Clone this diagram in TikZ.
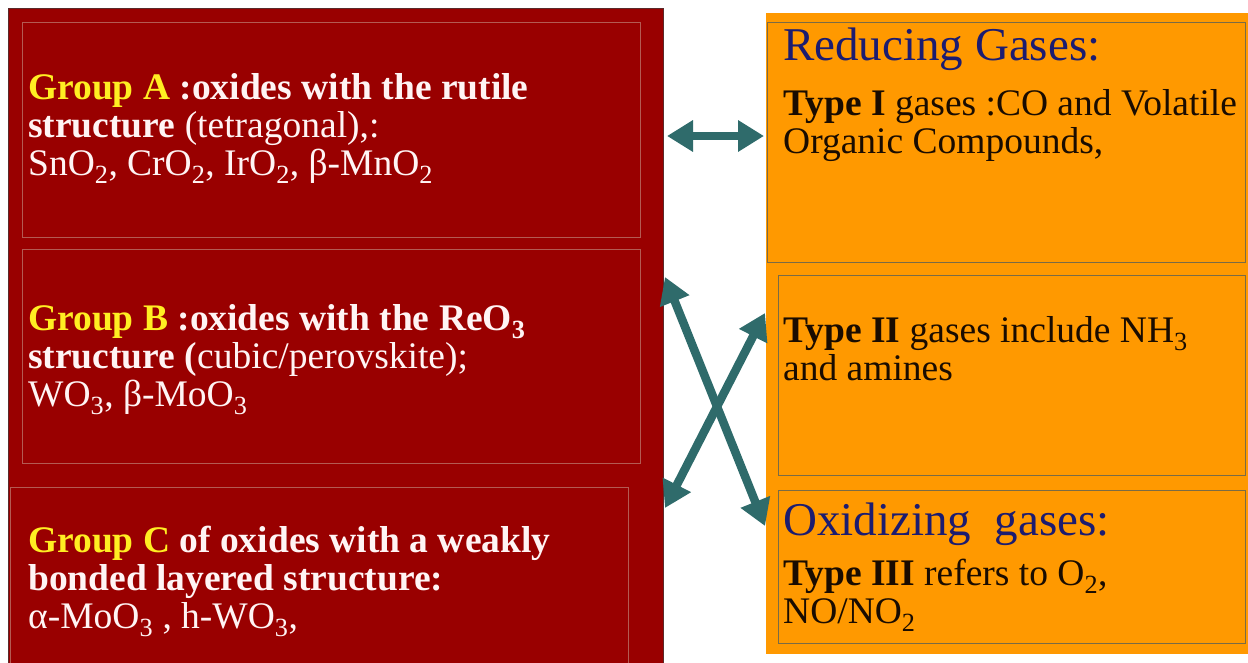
\documentclass[tikz,border=0pt]{standalone}
\usepackage{fontspec}
\setmainfont{Liberation Serif}
\usetikzlibrary{arrows.meta}

\definecolor{panelred}{HTML}{990000}
\definecolor{paneledge}{HTML}{5A2A2A}
\definecolor{boxline}{HTML}{B45A52}
\definecolor{groupyellow}{HTML}{FFEE22}
\definecolor{gasorange}{HTML}{FF9900}
\definecolor{gasline}{HTML}{7A6B45}
\definecolor{headnavy}{HTML}{1C1C70}
\definecolor{linkteal}{HTML}{2F6B6B}
\definecolor{inkwhite}{HTML}{FFF4F4}
\definecolor{inkdark}{HTML}{1A0C00}

\newcommand{\grp}[1]{{\color{groupyellow}#1}}

\begin{document}
\begin{tikzpicture}[x=1pt,y=-1pt,
  % multi-line nodes: the base anchor sits on the last line's baseline
  txt/.style={anchor=base west, inner sep=0pt, align=left,
              font=\fontsize{37.5}{38}\selectfont},
  oxtext/.style={txt, text=inkwhite},
  gastext/.style={txt, text=inkdark},
  headline/.style={anchor=base west, inner sep=0pt,
                   font=\fontsize{47}{48}\selectfont, text=headnavy},
  panel/.style={anchor=north west, inner sep=0pt, outer sep=0pt},
  oxbox/.style={draw=boxline, line width=1pt, anchor=north west,
                inner sep=0pt, outer sep=0pt},
  gasbox/.style={draw=gasline, line width=1pt, anchor=north west,
                 inner sep=0pt, outer sep=0pt},
  link/.style={draw=linkteal, line width=8.5pt,
               {Triangle[length=26pt,width=30pt]}-{Triangle[length=26pt,width=30pt]}}
]
\useasboundingbox (0,0) rectangle (1248,662);
\clip (0,0) rectangle (1248,662);

% panels
\node[panel, fill=panelred, draw=paneledge, line width=1pt,
      minimum width=655pt, minimum height=680pt] (oxides) at (8,8) {};
\node[panel, fill=gasorange, minimum width=482pt, minimum height=641pt]
      (gases) at (766,13) {};

% oxide groups
\node[oxbox, minimum width=618pt, minimum height=215pt] (boxA) at (22,22) {};
\node[oxbox, minimum width=618pt, minimum height=214pt] (boxB) at (22,249) {};
\node[oxbox, minimum width=618pt, minimum height=200pt] (boxC) at (10,487) {};

\node[oxtext] (textA) at (28,175)
  {\textbf{\grp{Group A} :oxides with the rutile}\\
   \textbf{structure} (tetragonal),:\\
   SnO\textsubscript{2}, CrO\textsubscript{2}, IrO\textsubscript{2}, β-MnO\textsubscript{2}};
\node[oxtext] (textB) at (28,406)
  {\textbf{\grp{Group B} :oxides with the ReO\textsubscript{3}}\\
   \textbf{structure (}cubic/perovskite);\\
   WO\textsubscript{3}, β-MoO\textsubscript{3}};
\node[oxtext] (textC) at (28,628)
  {\textbf{\grp{Group C} of oxides with a weakly}\\
   \textbf{bonded layered structure:}\\
   α-MoO\textsubscript{3} , h-WO\textsubscript{3},};

% gas types
\node[gasbox, minimum width=478pt, minimum height=240pt] (boxI) at (767,22) {};
\node[gasbox, minimum width=467pt, minimum height=200pt] (boxII) at (778,275) {};
\node[gasbox, minimum width=467pt, minimum height=153pt] (boxIII) at (778,490) {};

\node[headline] (reducing) at (783,60) {Reducing Gases:};
\node[gastext] (textI) at (783,153)
  {\textbf{Type I} gases :CO and Volatile\\
   Organic Compounds,};
\node[gastext] (textII) at (783,380)
  {\textbf{Type II} gases include NH\textsubscript{3}\\
   and amines};
\node[headline] (oxidizing) at (783,535) {Oxidizing\ \ gases:};
\node[gastext] (textIII) at (783,623)
  {\textbf{Type III} refers to O\textsubscript{2},\\
   NO/NO\textsubscript{2}};

% connector ends on the panel edges
\coordinate (aL) at ([xshift=4pt]oxides.east |- 0,136);
\coordinate (aR) at ([xshift=-2pt]gases.west |- 0,136);
\coordinate (bL) at ([xshift=2pt]oxides.east |- 0,277);
\coordinate (bR) at ([xshift=-1pt]gases.west |- 0,526);
\coordinate (cL) at ([xshift=2pt]oxides.east |- 0,508);
\coordinate (cR) at ([xshift=-1pt]gases.west |- 0,313);

\draw[link] (aL) -- (aR);
\draw[link] (bL) -- (bR);
\draw[link] (cL) -- (cR);
\end{tikzpicture}
\end{document}
